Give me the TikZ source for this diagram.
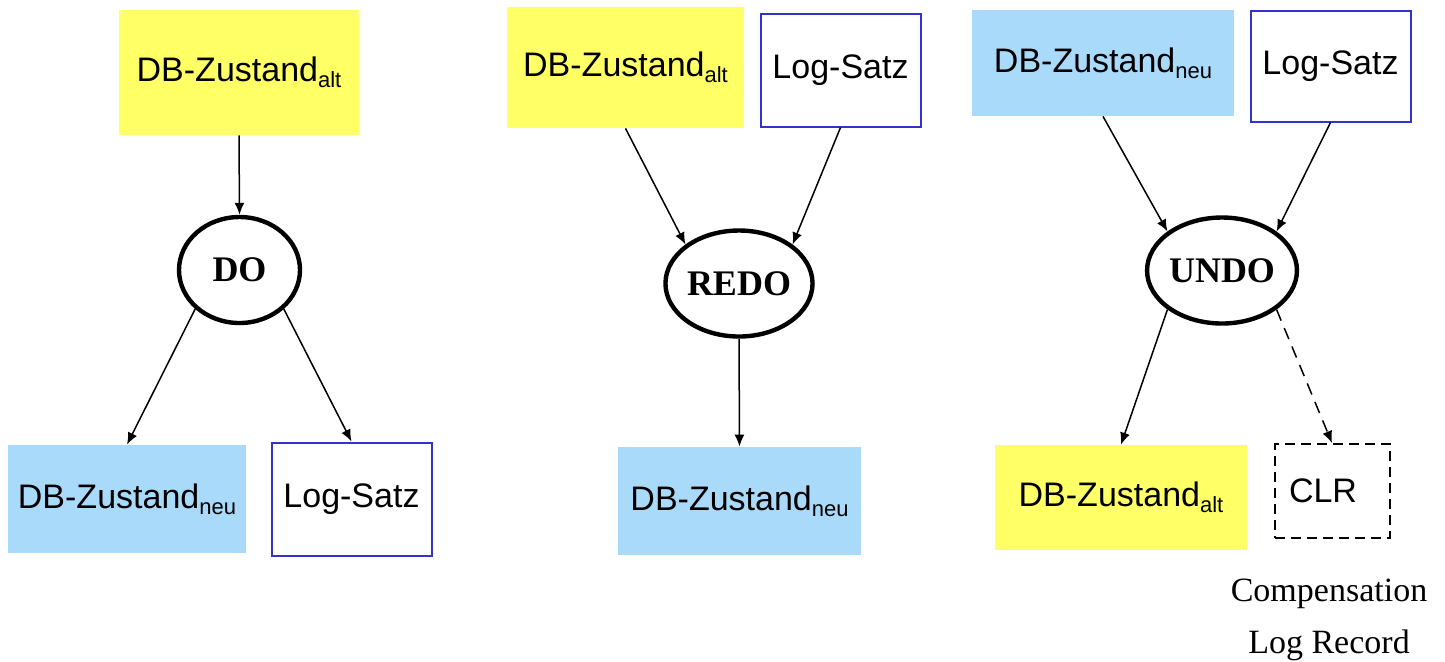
\documentclass[tikz,border=0pt]{standalone}
\usepackage{fontspec}
\setmainfont{Liberation Serif}
\newfontfamily\boxfont{Liberation Sans}
\usetikzlibrary{arrows.meta,shapes.geometric}
\definecolor{altyellow}{RGB}{255,255,102}
\definecolor{neublue}{RGB}{170,218,250}
\definecolor{logblue}{RGB}{51,51,204}
\newcommand{\lowidx}[1]{\raisebox{-0.35ex}{\fontsize{11}{12}\selectfont #1}}
\tikzset{every picture/.style={x=0.5pt,y=-0.5pt},
  state/.style={inner sep=0pt,font=\boxfont\fontsize{17}{20}\selectfont},
  altbox/.style={state,fill=altyellow},
  neubox/.style={state,fill=neublue},
  logbox/.style={state,draw=logblue,line width=1pt},
  clrbox/.style={state,draw,line width=1pt,dash pattern=on 5pt off 3pt},
  op/.style={ellipse,draw,line width=2.2pt,inner sep=0pt,minimum width=60.5pt,minimum height=53pt,font=\bfseries\fontsize{18}{20}\selectfont},
  flow/.style={-{Latex[length=6pt,width=5pt]},line width=0.75pt}}

\begin{document}
\begin{tikzpicture}
      \useasboundingbox (0,0) rectangle (1445,661);
      \node[altbox,minimum width=120pt,minimum height=62.5pt] (S1) at (239,72.5) {DB-Zustand\lowidx{alt}};
      \node[op] (E1) at (239.5,270) {DO};
      \node[neubox,minimum width=119pt,minimum height=54pt] (B1) at (127,499) {DB-Zustand\lowidx{neu}};
      \node[logbox,minimum width=80pt,minimum height=56.5pt] (L1) at (351.5,499) {Log-Satz};
      \draw[flow] (S1.south) -- (E1.north);
      \draw[flow] (E1.south west) -- (B1.north);
      \draw[flow] (E1.south east) -- (L1.north);
      \node[altbox,minimum width=118.5pt,minimum height=60.5pt] (S2) at (625.5,67.5) {DB-Zustand\lowidx{alt}};
      \node[logbox,minimum width=80pt,minimum height=56.5pt] (L2) at (840.5,70) {Log-Satz};
      \node[op,minimum width=62pt] (E2) at (739,283.5) {REDO};
      \node[neubox,minimum width=121.5pt,minimum height=54pt] (B2) at (739.5,501) {DB-Zustand\lowidx{neu}};
      \draw[flow] (S2.south) -- (E2.north west);
      \draw[flow] (L2.south) -- (E2.north east);
      \draw[flow] (E2.south) -- (B2.north);
      \node[neubox,minimum width=131pt,minimum height=53pt] (T3) at (1103,63) {DB-Zustand\lowidx{neu}};
      \node[logbox,minimum width=80pt,minimum height=55.5pt] (L3) at (1330.5,66) {Log-Satz};
      \node[op,minimum width=61pt] (E3) at (1222,270.5) {UNDO};
      \node[altbox,minimum width=126pt,minimum height=52.5pt] (Y3) at (1121,497.5) {DB-Zustand\lowidx{alt}};
      \node[clrbox,minimum width=57.5pt,minimum height=47pt] (C3) at (1332,491) {CLR\hspace*{9pt}};
      \node[font=\fontsize{17}{20}\selectfont,align=center,inner sep=0pt] (N3) at (1329,620) {Compensation\\[6pt]Log Record};
      \draw[flow] (T3.south) -- (E3.north west);
      \draw[flow] (L3.south) -- (E3.north east);
      \draw[flow] (E3.south west) -- (Y3.north);
      \draw[flow,dash pattern=on 6pt off 4pt] (E3.south east) -- (C3.north);
    \end{tikzpicture}
\end{document}
